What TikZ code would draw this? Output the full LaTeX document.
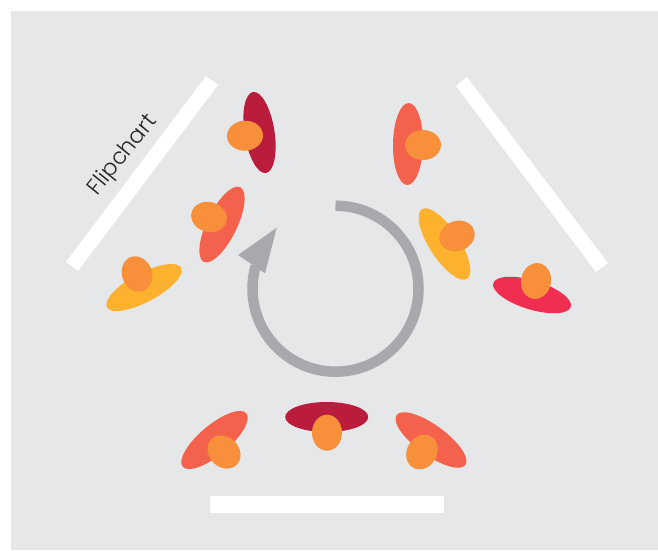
\documentclass[tikz,border=0pt]{standalone}
\usepackage{fontspec}
\setmainfont[UprightFont={* Light}]{Poppins}
\usetikzlibrary{shapes.geometric}
\definecolor{bgc}{HTML}{E6E7E9}
\definecolor{wine}{HTML}{B91C3C}
\definecolor{coral}{HTML}{F4614C}
\definecolor{amber}{HTML}{FDB22F}
\definecolor{rose}{HTML}{EF2E52}
\definecolor{headc}{HTML}{F78F3B}
\definecolor{ringc}{HTML}{A7A9AC}
\tikzset{
  body/.style={shape=ellipse,inner sep=0pt,minimum width=84pt,minimum height=30pt,fill=#1},
  head/.style={shape=ellipse,inner sep=0pt,minimum width=36pt,minimum height=30pt,fill=headc},
  bar/.style={fill=white}
}
\begin{document}
\begin{tikzpicture}[x=1pt,y=-1pt]
\useasboundingbox (0,0) rectangle (658,550);
\fill[bgc] (11,11) rectangle (658,550);
% boards
\fill[bar] (206,76) -- (218,85) -- (78,271) -- (66,262) -- cycle;
\fill[bar] (467,77) -- (456,86) -- (596,272) -- (608,263) -- cycle;
\fill[bar] (210,496) rectangle (444,513);
\node[rotate=51,text=black!85,font=\fontsize{22.5}{27}\selectfont,inner sep=0pt] (label) at (123,155.5) {Flipchart};
% cycle arrow
\draw[ringc,line width=10.5pt] (335.5,205.7) arc[start angle=-90,end angle=196,radius=83];
\fill[ringc] (276.7,227.7) -- (238,255) -- (265,273.3) -- cycle;
% people
\node[body=wine,rotate=-81,minimum width=82pt] (b1) at (259.5,132.5) {};
\node[head,rotate=3] (h1) at (245,135.7) {};
\node[body=coral,rotate=-116,minimum width=83pt] (b2) at (222,224.5) {};
\node[head,rotate=-15] (h2) at (209,217) {};
\node[body=amber,rotate=28,minimum height=29pt] (b3) at (144,287.5) {};
\node[head,rotate=-70] (h3) at (137,274) {};
\node[body=coral,rotate=-91,minimum width=82pt] (b4) at (408,144) {};
\node[head] (h4) at (423,145) {};
\node[body=amber,rotate=-57,minimum width=83pt] (b5) at (444.5,244) {};
\node[head,rotate=20] (h5) at (457,236) {};
\node[body=rose,rotate=-17,minimum width=81pt,minimum height=29pt] (b6) at (532,295) {};
\node[head,rotate=80] (h6) at (536,281) {};
\node[body=coral,rotate=40,minimum width=83pt] (b7) at (214.5,440) {};
\node[head,rotate=-45] (h7) at (224,452) {};
\node[body=wine,minimum width=83pt] (b8) at (326.7,417) {};
\node[head,rotate=90] (h8) at (327,432.7) {};
\node[body=coral,rotate=-36,minimum width=85pt] (b9) at (431,440) {};
\node[head,rotate=60] (h9) at (422,452) {};
\end{tikzpicture}
\end{document}
